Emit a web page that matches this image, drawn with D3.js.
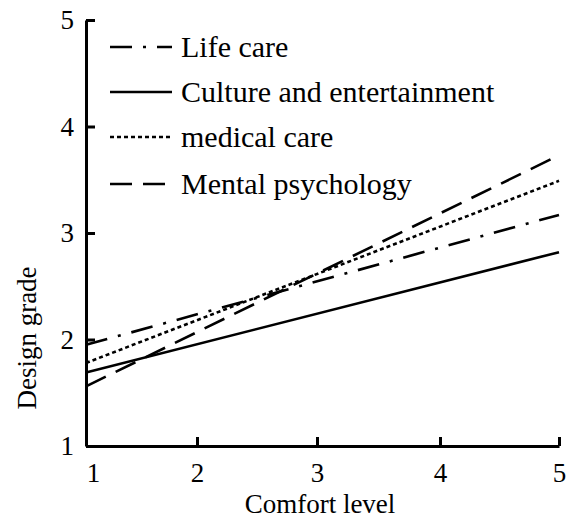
<!DOCTYPE html>
<html>
<head>
<meta charset="utf-8">
<script src="https://cdn.jsdelivr.net/npm/d3@7/dist/d3.min.js"></script>
<style>
  html, body { margin: 0; padding: 0; background: #fff; }
  svg { display: block; }
  svg text { font-family: "Liberation Serif", "Times New Roman", "DejaVu Serif", serif !important; fill: #000; }
</style>
</head>
<body>
<svg id="chart" width="567" height="522"></svg>
<script>
// ---- data ----
const xTicks = [1, 2, 3, 4, 5];
const yTicks = [1, 2, 3, 4, 5];
const seriesNames = ["Life care", "Culture and entertainment", "medical care", "Mental psychology"];
const xEnds = [1, 5];
const lifeCare = [1.95, 3.17];
const culture = [1.69, 2.82];
const medical = [1.78, 3.49];
const mental = [1.56, 3.73];
const xTitle = "Comfort level";
const yTitle = "Design grade";

const seriesValues = [lifeCare, culture, medical, mental];
const dashes = ["22,11,3,11", null, "4,3", "22,11"];
const FONT = "'Liberation Serif', 'Times New Roman', 'DejaVu Serif', serif";

const svg = d3.select("#chart");
const x = d3.scaleLinear().domain([1, 2, 3, 4, 5]).range([86, 197, 317, 440, 559]);
const y = d3.scaleLinear().domain([1, 5]).range([446, 20]);

// lines
const line = d3.line().x(d => x(d[0])).y(d => y(d[1]));
seriesValues.forEach((vals, i) => {
  const pts = xEnds.map((xv, j) => [xv, vals[j]]);
  svg.append("path")
    .attr("d", line(pts))
    .attr("fill", "none")
    .attr("stroke", "#000")
    .attr("stroke-width", 2.6)
    .attr("stroke-dasharray", dashes[i]);
});

// axes
const xAxis = d3.axisBottom(x).tickValues(xTicks).tickSizeInner(-9).tickSizeOuter(0).tickPadding(17).tickFormat(d3.format("d"));
const yAxis = d3.axisLeft(y).tickValues(yTicks).tickSizeInner(-9).tickSizeOuter(0).tickPadding(12).tickFormat(d3.format("d"));

const gx = svg.append("g").attr("transform", `translate(0,${y(1)})`).call(xAxis);
const gy = svg.append("g").attr("transform", `translate(${x(1)},0)`).call(yAxis);
[gx, gy].forEach(g => {
  g.attr("font-family", FONT);
  g.select(".domain").attr("stroke", "#000").attr("stroke-width", 3);
  g.selectAll(".tick line").attr("stroke", "#000").attr("stroke-width", 3);
  g.selectAll(".tick text").attr("font-size", 27).style("font-family", FONT).attr("fill", "#000");
});
gx.selectAll(".tick text").filter(d => d === 1).attr("dx", 7);

// axis titles
svg.append("text")
  .attr("x", 320).attr("y", 513)
  .attr("text-anchor", "middle")
  .attr("font-size", 27)
  .style("font-family", FONT)
  .text(xTitle);
svg.append("text")
  .attr("transform", `translate(36,338) rotate(-90)`)
  .attr("text-anchor", "middle")
  .attr("font-size", 27)
  .style("font-family", FONT)
  .text(yTitle);

// legend
const legY = [47, 92, 137, 184];
seriesNames.forEach((name, i) => {
  svg.append("line")
    .attr("x1", 110).attr("x2", 172)
    .attr("y1", legY[i]).attr("y2", legY[i])
    .attr("stroke", "#000")
    .attr("stroke-width", 2.6)
    .attr("stroke-dasharray", dashes[i]);
  svg.append("text")
    .attr("x", 181).attr("y", legY[i] + 10)
    .attr("font-size", 30)
    .style("font-family", FONT)
    .text(name);
});
</script>
</body>
</html>
